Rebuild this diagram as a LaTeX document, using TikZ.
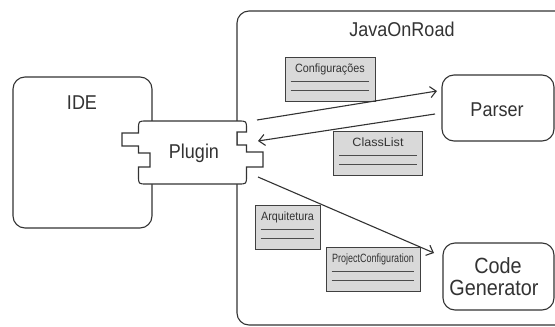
\documentclass[tikz,border=0pt]{standalone}
\usepackage{fontspec}
\setmainfont{Liberation Sans}[FakeStretch=0.9]
\newfontfamily\pcfont{Liberation Sans}[FakeStretch=0.75]
\newfontfamily\clfont{Liberation Sans}[FakeStretch=1.05]
\usetikzlibrary{arrows.meta,calc}
\definecolor{linec}{HTML}{333333}
\definecolor{notefill}{HTML}{D9D9D9}
\begin{document}
\begin{tikzpicture}[x=1pt,y=-1pt,
  box/.style={draw=linec, line width=1.1pt, rounded corners=12pt, fill=white, inner sep=0pt},
  bigtext/.style={font=\fontsize{20}{24}\selectfont, text=linec, anchor=base, inner sep=0pt},
  notebox/.style={draw=black!75, line width=0.9pt, fill=notefill, minimum height=44pt, inner sep=0pt},
  notetext/.style={font=\fontsize{12}{14}\selectfont, text=linec, anchor=base, inner sep=0pt},
  noteline/.style={draw=black!70, line width=0.8pt},
  plugshape/.style={draw=linec, line width=1.1pt, fill=white},
  flow/.style={draw=linec, line width=1.1pt, -{Straight Barb[length=6pt,width=11pt]}}
]
\clip (0,0) rectangle (555,327);

% containers
\node[box, minimum width=338pt, minimum height=314pt] (jor) at (406,168) {};
\node[bigtext] (jorlbl) at (402,36) {JavaOnRoad};
\node[box, minimum width=139pt, minimum height=151pt] (ide) at (82.5,152.5) {};
\node[bigtext] (idelbl) at (82,109) {IDE};

% plugin component
\path[plugshape] (122,133) -- (138.5,133) -- (138.5,129) .. controls (138.5,121) .. (146.5,121)
  -- (238.5,121) .. controls (246.5,121) .. (246.5,129) -- (246.5,132) -- (237,132) -- (237,145)
  -- (246.5,145) -- (246.5,152) -- (263,152) -- (263,167) -- (246.5,167) -- (246.5,176)
  .. controls (246.5,184) .. (238.5,184) -- (146.5,184) .. controls (138.5,184) .. (138.5,176)
  -- (138.5,167) -- (150,167) -- (150,153) -- (138.5,153) -- (138.5,146) -- (122,146) -- cycle;
\node[bigtext] (plugin) at (194,158) {Plugin};

% targets
\node[box, minimum width=112pt, minimum height=66pt] (parser) at (498,108) {};
\node[bigtext] (parserlbl) at (497,116.5) {Parser};
\node[box, minimum width=111pt, minimum height=67pt] (codegen) at (498.5,276.5) {};
\node[bigtext, font=\fontsize{22}{24}\selectfont] (cglbl1) at (498,273) {Code};
\node[bigtext, font=\fontsize{22}{24}\selectfont] (cglbl2) at (494,295) {Generator};

% notes
\node[notebox, minimum width=90pt] (n1) at (330,79) {};
\node[notetext] (n1t) at ($(n1.north)+(0,15.5)$) {Configurações};
\node[notebox, minimum width=89pt] (n2) at (378,153) {};
\node[notetext, font=\fontsize{12}{14}\clfont] (n2t) at ($(n2.north)+(0,15.5)$) {ClassList};
\node[notebox, minimum width=65pt] (n3) at (287.5,227) {};
\node[notetext] (n3t) at ($(n3.north)+(0,15.5)$) {Arquitetura};
\node[notebox, minimum width=94pt] (n4) at (373,269) {};
\node[notetext, font=\fontsize{12}{14}\pcfont] (n4t) at ($(n4.north)+(0,16)$) {ProjectConfiguration};
\foreach \n in {n1,n2,n3,n4}{
  \draw[noteline] ($(\n.north west)+(6,24.5)$) -- ($(\n.north east)+(-6,24.5)$);
  \draw[noteline] ($(\n.north west)+(6,33.5)$) -- ($(\n.north east)+(-6,33.5)$);
}

% connectors
\coordinate (pa) at (257,120);
\coordinate (pb) at (258,141);
\coordinate (pc) at (258,177);
\coordinate (parin) at (437,91);
\coordinate (parout) at (435,114);
\coordinate (cgin) at (434,253);
\draw[flow] (pa) -- (parin);
\draw[flow] (parout) -- (pb);
\draw[flow] (pc) -- (cgin);
\end{tikzpicture}
\end{document}
